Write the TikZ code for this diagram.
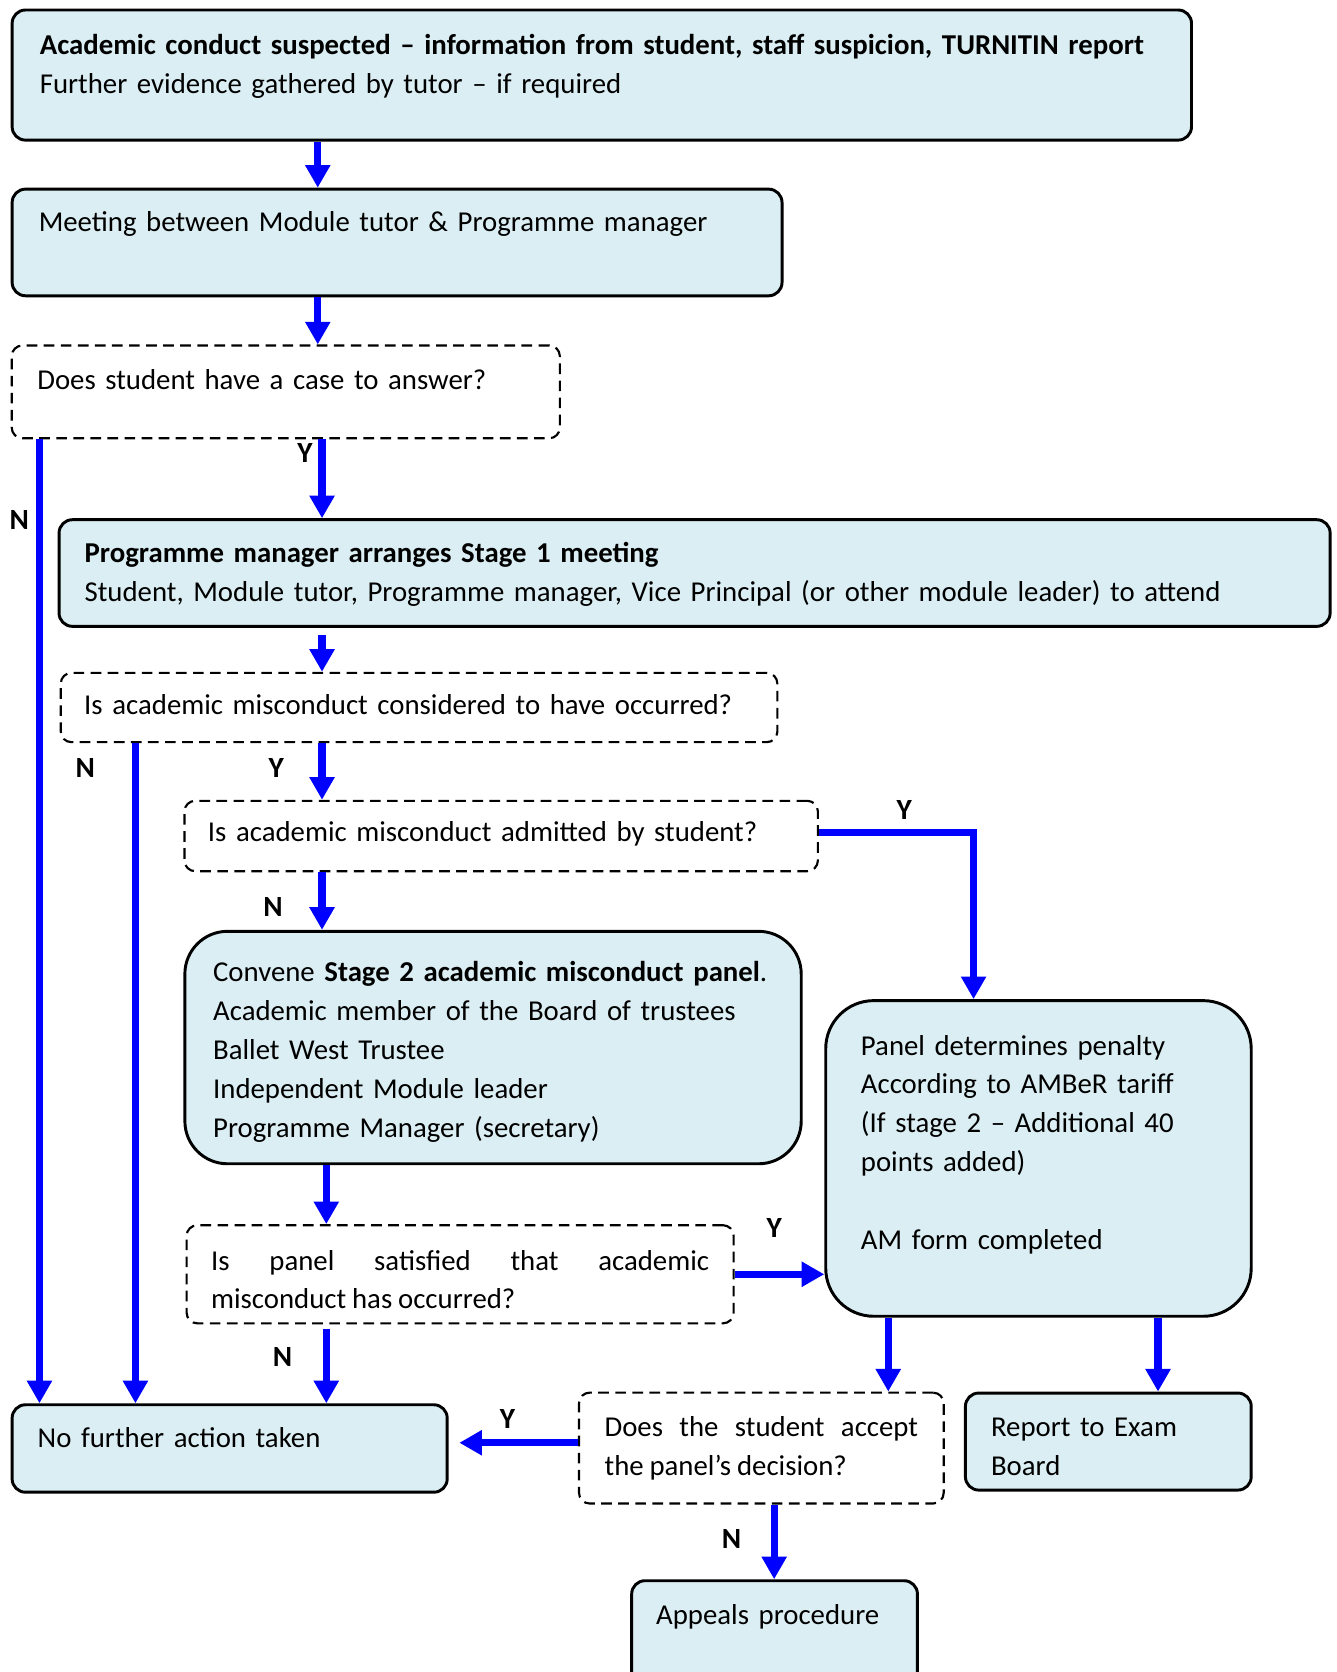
\documentclass[tikz,border=0pt]{standalone}
\usepackage{fontspec}
\setmainfont{Carlito}[WordSpace=0.9]
\usetikzlibrary{arrows.meta}
\definecolor{boxblue}{HTML}{DAEEF3}
\definecolor{flowblue}{HTML}{0000FF}

\begin{document}
\begin{tikzpicture}[x=0.4pt, y=-0.4pt,
  every node/.style={font=\fontsize{10.8}{14.6}\selectfont},
  box/.style={draw=black, line width=1.1pt, fill=boxblue, rounded corners=5pt, anchor=north west, align=left, inner ysep=0pt},
  ask/.style={draw=black, line width=0.8pt, dash pattern=on 4pt off 2.4pt, rounded corners=4pt, anchor=north west, align=left, inner ysep=0pt},
  flow/.style={draw=flowblue, line width=2.7pt, -{Triangle[width=9pt,length=8.5pt]}},
  yn/.style={font=\fontsize{11}{13}\selectfont\bfseries, inner sep=0pt}]
  \useasboundingbox (0,0) rectangle (1253,1568);
  \clip (0,0) rectangle (1253,1568);
  % first contact
  \node[box, inner xsep=10.4pt, text width=421.6pt, text height=16.8pt, text depth=32pt] (susp) at (10,8)
    {{\bfseries Academic conduct suspected -- information from student, staff suspicion, TURNITIN report}\\
     Further evidence gathered by tutor -- if required};
  \node[box, inner xsep=10pt, text width=268.8pt, text height=16pt, text depth=24pt] (meet) at (10,176)
    {Meeting between Module tutor \& Programme manager};
  \node[ask, inner xsep=9.6pt, text width=186.4pt, text height=16.4pt, text depth=18.4pt] (case) at (10,323)
    {Does student have a case to answer?};
  % stage 1
  \node[box, inner xsep=9.6pt, text width=457.6pt, text height=16pt, text depth=24pt] (stage1) at (54,486)
    {{\bfseries Programme manager arranges Stage 1 meeting}\\
     Student, Module tutor, Programme manager, Vice Principal (or other module leader) to attend};
  \node[ask, inner xsep=8.8pt, text width=251.2pt, text height=15.6pt, text depth=10.4pt] (occur) at (56,630)
    {Is academic misconduct considered to have occurred?};
  \node[ask, inner xsep=8.8pt, text width=220pt, text height=15.2pt, text depth=11.2pt] (admit) at (172,750)
    {Is academic misconduct admitted by student?};
  % stage 2
  \node[box, rounded corners=16pt, inner xsep=10.6pt, text width=210pt, text height=18.8pt, text depth=68.4pt] (panel2) at (172,872)
    {Convene {\bfseries Stage 2 academic misconduct panel}.\\
     Academic member of the Board of trustees\\
     Ballet West Trustee\\
     Independent Module leader\\
     Programme Manager (secretary)};
  \node[box, rounded corners=18pt, inner xsep=13.2pt, text width=133.2pt, text height=20.4pt, text depth=98pt] (penalty) at (773,937)
    {Panel determines penalty\\
     According to AMBeR tariff\\
     (If stage 2 -- Additional 40\\
     points added)\\[14.6pt]
     AM form completed};
  \node[ask, align=justify, inner xsep=9.2pt, text width=186.8pt, text height=16.8pt, text depth=20pt] (satisf) at (174,1148)
    {Is panel satisfied that academic\linebreak misconduct has occurred?};
  % outcomes
  \node[box, inner xsep=9.6pt, text width=144pt, text height=16pt, text depth=16.8pt] (nofurther) at (10,1316)
    {No further action taken};
  \node[ask, align=justify, inner xsep=9.6pt, text width=117.6pt, text height=16.4pt, text depth=25.2pt] (accept) at (542,1305)
    {Does the student accept\linebreak the panel's decision?};
  \node[box, inner xsep=9.6pt, text width=88pt, text height=16.4pt, text depth=20pt] (report) at (904,1305)
    {Report to Exam\\ Board};
  \node[box, inner xsep=9.2pt, text width=88.8pt, text height=16.4pt, text depth=44pt] (appeal) at (591,1481)
    {Appeals procedure};
  % arrow columns
  \coordinate (spine1) at (298,0);
  \coordinate (spine2) at (302,0);
  \coordinate (spine3) at (306,0);
  \coordinate (noA) at (37,0);
  \coordinate (noB) at (127,0);
  \coordinate (yesA) at (913,0);
  \coordinate (toAccept) at (833,0);
  \coordinate (toReport) at (1086,0);
  \coordinate (toAppeal) at (726,0);
  % connectors
  \draw[flow] (susp.south -| spine1) -- (meet.north -| spine1);
  \draw[flow] (meet.south -| spine1) -- (case.north -| spine1);
  \draw[flow] (case.south -| spine2) -- (stage1.north -| spine2);
  \draw[flow] (case.south -| noA) -- (nofurther.north -| noA);
  \draw[flow, shorten <=2.8pt] (stage1.south -| spine2) -- (occur.north -| spine2);
  \draw[flow] (occur.south -| spine2) -- (admit.north -| spine2);
  \draw[flow] (occur.south -| noB) -- (nofurther.north -| noB);
  \draw[flow] ([yshift=1.2pt]admit.east) -| (penalty.north -| yesA);
  \draw[flow] (admit.south -| spine2) -- (panel2.north -| spine2);
  \draw[flow] (panel2.south -| spine3) -- (satisf.north -| spine3);
  \draw[flow] (satisf.east) -- (satisf.east -| penalty.west);
  \draw[flow, shorten <=1.6pt] (satisf.south -| spine3) -- (nofurther.north -| spine3);
  \draw[flow] (penalty.south -| toAccept) -- (accept.north -| toAccept);
  \draw[flow] (penalty.south -| toReport) -- (report.north -| toReport);
  \draw[flow, shorten >=4pt] ([yshift=2pt]accept.west) -- ([yshift=2pt]accept.west -| nofurther.east);
  \draw[flow] (accept.south -| toAppeal) -- (appeal.north -| toAppeal);
  % Y / N labels
  \node[yn] (y1) at (286,425) {Y};
  \node[yn] (n1) at (18,488) {N};
  \node[yn] (n2) at (80,720) {N};
  \node[yn] (y2) at (259,720) {Y};
  \node[yn] (y3) at (848,760) {Y};
  \node[yn] (n3) at (256,851) {N};
  \node[yn] (y4) at (726,1152) {Y};
  \node[yn] (n4) at (265,1273) {N};
  \node[yn] (y5) at (476,1331) {Y};
  \node[yn] (n5) at (686,1443) {N};
\end{tikzpicture}
\end{document}
